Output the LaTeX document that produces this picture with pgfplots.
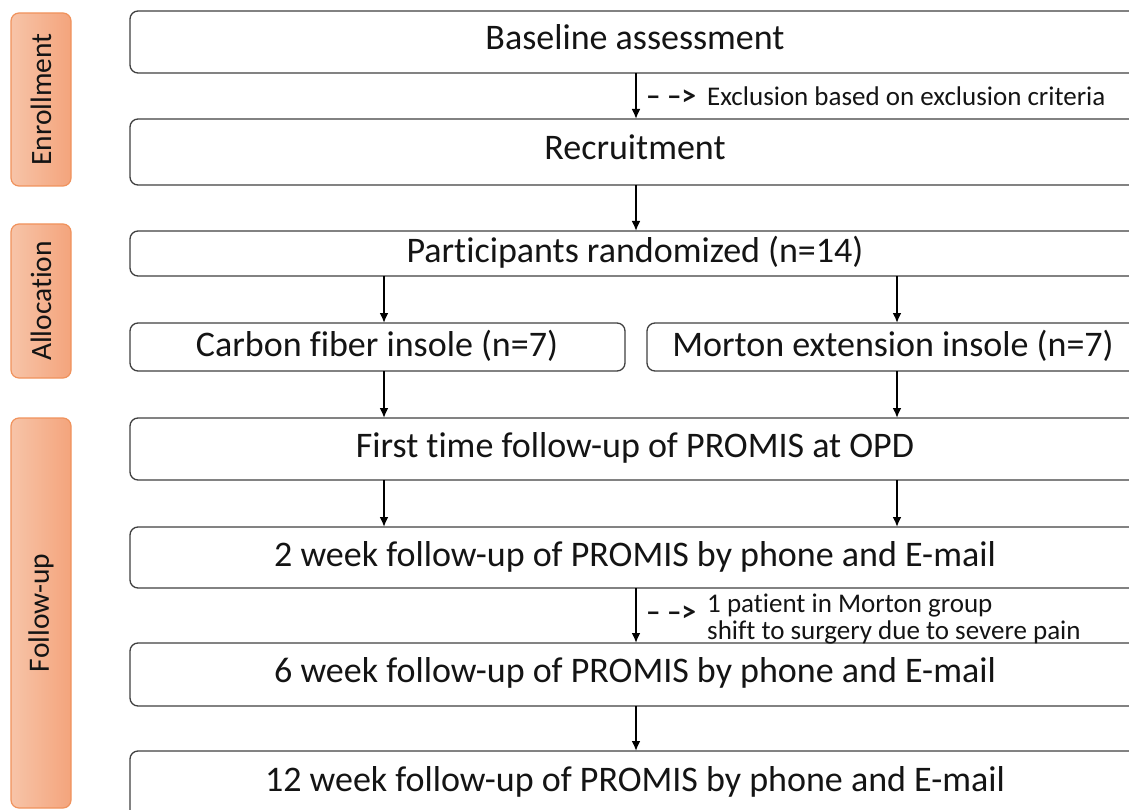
\documentclass[border=0pt]{standalone}
\usepackage{pgfplots}
\pgfplotsset{compat=1.18}
\usepackage{fontspec}
\setmainfont{Carlito}[Ligatures=NoCommon]
\usetikzlibrary{arrows.meta}
\definecolor{sideL}{RGB}{247,196,168}
\definecolor{sideR}{RGB}{244,164,124}
\definecolor{sideB}{RGB}{240,146,92}
\definecolor{boxB}{RGB}{64,64,64}
\definecolor{txt}{RGB}{20,20,20}
\begin{document}
\begin{tikzpicture}
\begin{axis}[
  width=1129pt, height=810pt, scale only axis,
  xmin=0, xmax=1129, ymin=0, ymax=810, y dir=reverse,
  hide axis, clip=true, anchor=south west, at={(0,0)}]
% side bars
\draw[draw=sideB, line width=1.2pt, left color=sideL, right color=sideR, rounded corners=8pt]
  (axis cs:11,13) rectangle (axis cs:71,186);
\draw[draw=sideB, line width=1.2pt, left color=sideL, right color=sideR, rounded corners=8pt]
  (axis cs:11,224) rectangle (axis cs:71,378);
\draw[draw=sideB, line width=1.2pt, left color=sideL, right color=sideR, rounded corners=8pt]
  (axis cs:11,418) rectangle (axis cs:71,808);
\node[rotate=90, text=txt, font=\fontsize{29.5}{32}\selectfont] at (axis cs:41,99.5) {Enrollment};
\node[rotate=90, text=txt, font=\fontsize{29.5}{32}\selectfont] at (axis cs:41,301) {Allocation};
\node[rotate=90, text=txt, font=\fontsize{29.5}{32}\selectfont] at (axis cs:41,613) {Follow-up};
% boxes
\tikzset{bx/.style={draw=boxB, line width=1.3pt, fill=white, rounded corners=8pt}}
\draw[bx] (axis cs:130,11) rectangle (axis cs:1141,73);
\draw[bx] (axis cs:130,119) rectangle (axis cs:1141,185);
\draw[bx] (axis cs:130,231) rectangle (axis cs:1141,276);
\draw[bx] (axis cs:130,323) rectangle (axis cs:625,371);
\draw[bx] (axis cs:647,323) rectangle (axis cs:1141,371);
\draw[bx] (axis cs:130,418) rectangle (axis cs:1141,480);
\draw[bx] (axis cs:130,527) rectangle (axis cs:1141,588);
\draw[bx] (axis cs:130,643) rectangle (axis cs:1141,706);
\draw[bx] (axis cs:130,751) rectangle (axis cs:1141,830);
% texts
\tikzset{bt/.style={anchor=base, inner sep=0pt, text=txt, font=\fontsize{36}{40}\selectfont}}
\node[bt] at (axis cs:635,50) {Baseline assessment};
\node[bt] at (axis cs:635,160) {Recruitment};
\node[bt] at (axis cs:635,262) {Participants randomized (n=14)};
\node[bt] at (axis cs:377,356) {Carbon fiber insole (n=7)};
\node[bt] at (axis cs:893,356) {Morton extension insole (n=7)};
\node[bt] at (axis cs:635,457) {First time follow-up of PROMIS at OPD};
\node[bt] at (axis cs:635,566) {2 week follow-up of PROMIS by phone and E-mail};
\node[bt] at (axis cs:635,682) {6 week follow-up of PROMIS by phone and E-mail};
\node[bt] at (axis cs:635,791) {12 week follow-up of PROMIS by phone and E-mail};
% arrows
\tikzset{ar/.style={black, line width=2.5pt, -{Latex[length=10pt,width=9pt]}}}
\draw[ar] (axis cs:636,73) -- (axis cs:636,119);
\draw[ar] (axis cs:636,185) -- (axis cs:636,231);
\draw[ar] (axis cs:384,276) -- (axis cs:384,323);
\draw[ar] (axis cs:897,276) -- (axis cs:897,323);
\draw[ar] (axis cs:384,371) -- (axis cs:384,418);
\draw[ar] (axis cs:897,371) -- (axis cs:897,418);
\draw[ar] (axis cs:384,480) -- (axis cs:384,527);
\draw[ar] (axis cs:897,480) -- (axis cs:897,527);
\draw[ar] (axis cs:636,588) -- (axis cs:636,643);
\draw[ar] (axis cs:636,706) -- (axis cs:636,751);
% side notes
\tikzset{st/.style={anchor=base west, inner sep=0pt, text=txt, font=\fontsize{27}{27}\selectfont}}
\node[st, font=\fontsize{29}{27}\selectfont\bfseries] at (axis cs:646,106) {– –>};
\node[st] at (axis cs:707,106) {Exclusion based on exclusion criteria};
\node[st, font=\fontsize{29}{27}\selectfont\bfseries] at (axis cs:646,621) {– –>};
\node[st] at (axis cs:707,612) {1 patient in Morton group};
\node[st] at (axis cs:707,639) {shift to surgery due to severe pain};
\end{axis}
\pgfresetboundingbox
\useasboundingbox (0,0) rectangle (1129pt,810pt);
\end{tikzpicture}
\end{document}
